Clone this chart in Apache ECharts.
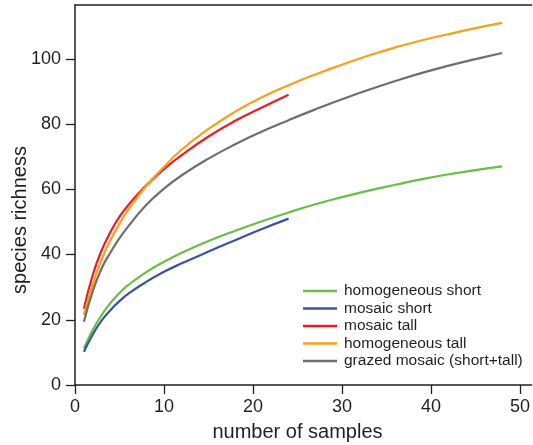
<!DOCTYPE html>
<html><head><meta charset="utf-8">
<script src="https://cdn.jsdelivr.net/npm/echarts@6/dist/echarts.min.js"></script>
<style>html,body{margin:0;padding:0;background:#fff}#c{width:533px;height:445px}</style>
</head><body><div id="c"></div>
<script>
// sample numbers
const samplesLong  = [1,2,3,4,5,6,8,10,12,15,18,21,24,27,30,33,36,39,42,45,48];
const samplesShort = [1,2,3,4,5,6,8,10,12,15,18,21,24];
// species richness values
const homogeneousShort = [11.2,16.9,21.5,25.2,28.2,30.7,34.6,37.8,40.55,44.15,47.3,50.2,52.9,55.4,57.6,59.6,61.4,63.1,64.6,65.9,67.0];
const mosaicShort      = [10.2,15.5,19.8,23.0,25.7,28.0,31.6,34.7,37.3,40.9,44.4,47.8,51.0];
const mosaicTall       = [23.4,33.8,41.3,47.0,51.6,55.2,61.2,66.2,70.5,76.2,81.0,85.1,89.0];
const homogeneousTall  = [21.5,31.0,38.5,44.5,49.4,53.8,61.0,66.9,72.2,78.5,83.8,88.2,91.9,95.2,98.2,101.0,103.5,105.7,107.6,109.4,111.0];
const grazedMosaic     = [19.4,28.8,35.8,40.7,45.0,48.7,55.2,60.2,64.3,69.4,73.8,77.7,81.2,84.5,87.6,90.5,93.2,95.7,97.9,99.9,101.8];
const xTicks = [0,10,20,30,40,50];
const yTicks = [0,20,40,60,80,100];
const seriesNames = ['homogeneous short','mosaic short','mosaic tall','homogeneous tall','grazed mosaic (short+tall)'];
const xTitle = 'number of samples';
const yTitle = 'species richness';

const colors = ['#6abd45','#3953a4','#ed1c24','#f9a01b','#6d6e71'];
const font = '"Liberation Sans", Arial, Helvetica, sans-serif';
const ink = '#231f20';
const pair = (xs, ys) => xs.map((x,i)=>[x, ys[i]]);
const datasets = [
  pair(samplesLong, homogeneousShort),
  pair(samplesShort, mosaicShort),
  pair(samplesShort, mosaicTall),
  pair(samplesLong, homogeneousTall),
  pair(samplesLong, grazedMosaic)
];

const chart = echarts.init(document.getElementById('c'), null, {renderer:'canvas'});
chart.setOption({
  animation:false,
  backgroundColor:'#fff',
  grid:{left:75, right:0, top:5, bottom:60, containLabel:false},
  xAxis:[{
    type:'value', min:0, max:51.3, position:'bottom',
    axisLine:{show:true, lineStyle:{color:ink, width:1.5}},
    axisTick:{show:true, length:9, customValues:xTicks, lineStyle:{color:ink, width:1.3}},
    axisLabel:{color:ink, fontSize:18, fontFamily:font, margin:13, customValues:xTicks},
    splitLine:{show:false}
  },{
    type:'value', min:0, max:51.3, position:'top',
    axisLine:{show:true, lineStyle:{color:ink, width:1.5}},
    axisTick:{show:false}, axisLabel:{show:false}, splitLine:{show:false}
  }],
  yAxis:{
    type:'value', min:0, max:116.5,
    axisLine:{show:true, lineStyle:{color:ink, width:1.5}},
    axisTick:{show:true, length:9, customValues:yTicks, lineStyle:{color:ink, width:1.3}},
    axisLabel:{color:ink, fontSize:18, fontFamily:font, margin:14, customValues:yTicks},
    splitLine:{show:false}
  },
  legend:{
    orient:'vertical', left:298, top:278, itemWidth:34, itemHeight:14, itemGap:1.5,
    icon:'path://M0,0L34,0L34,2.5L0,2.5Z',
    data:seriesNames,
    textStyle:{color:ink, fontSize:15.5, fontFamily:font, lineHeight:14, padding:[0,0,0,2]}
  },
  graphic:[
    {type:'text', x:297.5, y:432, style:{text:xTitle, fill:ink, font:'20px '+font, textAlign:'center', textVerticalAlign:'middle'}},
    {type:'text', x:20, y:220, rotation:Math.PI/2, style:{text:yTitle, fill:ink, font:'20px '+font, textAlign:'center', textVerticalAlign:'middle'}}
  ],
  series: datasets.map((d,i)=>({
    name:seriesNames[i], type:'line', data:d, smooth:true, showSymbol:false, symbol:'none',
    lineStyle:{color:colors[i], width:2.2}, itemStyle:{color:colors[i]}, z:2+i
  }))
});
</script></body></html>
